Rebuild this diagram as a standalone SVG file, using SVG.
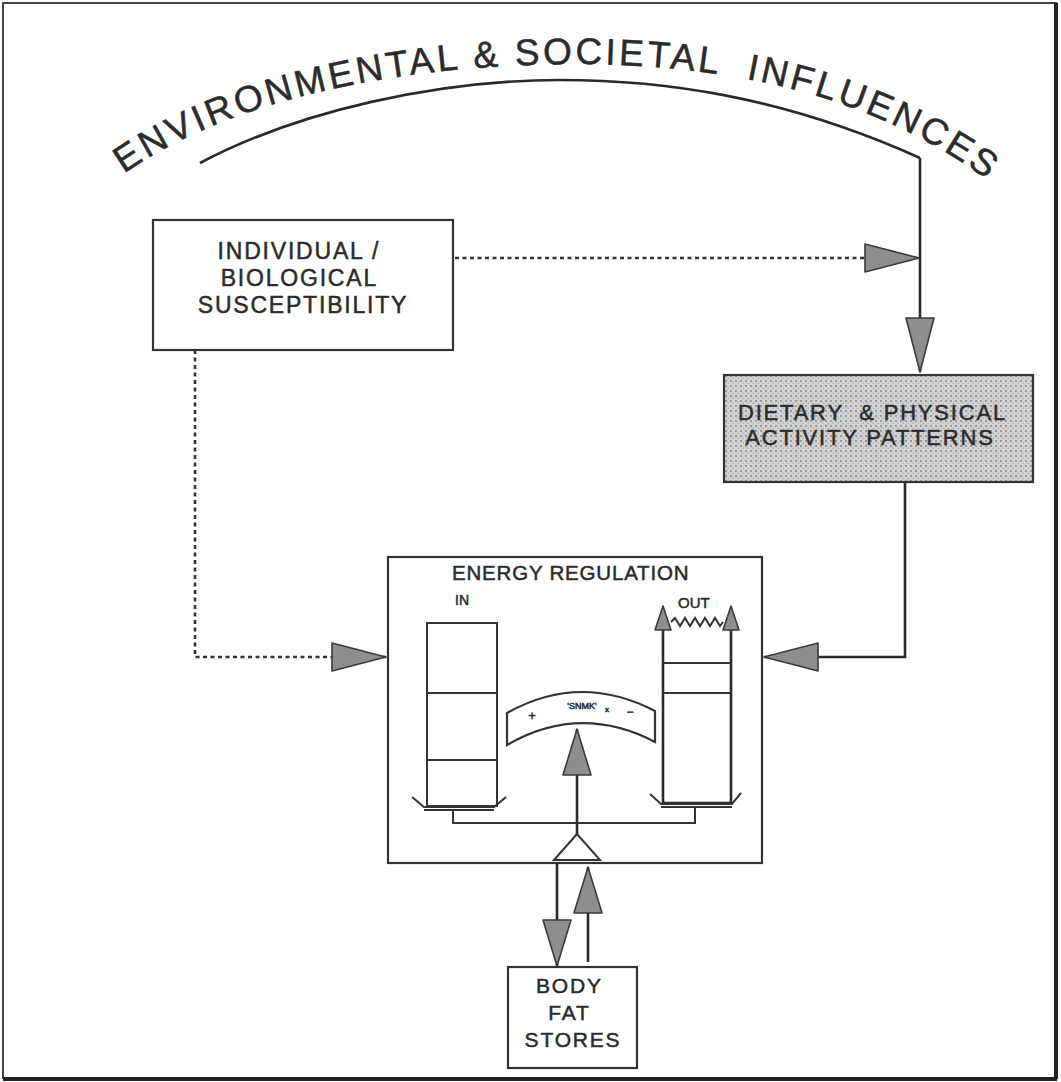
<svg xmlns="http://www.w3.org/2000/svg" width="1061" height="1082" viewBox="0 0 1061 1082">
<style>
  .txt { font-family: "Liberation Sans", Arial, sans-serif; fill: #2b2b2b; stroke: #2b2b2b; stroke-width: 0.5; }
  .box { fill: #ffffff; stroke: #333333; stroke-width: 2.2; }
  .ln { fill: none; stroke: #2a2a2a; stroke-width: 2.6; }
  .thin { fill: none; stroke: #333333; stroke-width: 2; }
  .dot { fill: none; stroke: #333333; stroke-width: 2.6; stroke-dasharray: 4 3.5; }
  .ahd { fill: #8e8e8e; stroke: #3a3a3a; stroke-width: 1.6; stroke-linejoin: round; }
</style>
<defs>
  <marker id="ah" viewBox="0 0 56 30" refX="55" refY="15" markerWidth="56" markerHeight="30" markerUnits="userSpaceOnUse" orient="auto">
    <path d="M1,1 L55,15 L1,29 Z" class="ahd"/>
  </marker>
  <marker id="ahm" viewBox="0 0 48 30" refX="47" refY="15" markerWidth="48" markerHeight="30" markerUnits="userSpaceOnUse" orient="auto">
    <path d="M1,1 L47,15 L1,29 Z" class="ahd"/>
  </marker>
  <marker id="ahs" viewBox="0 0 26 18" refX="25" refY="9" markerWidth="26" markerHeight="18" markerUnits="userSpaceOnUse" orient="auto">
    <path d="M1,1 L25,9 L1,17 Z" class="ahd"/>
  </marker>
  <pattern id="stip" width="5" height="5" patternUnits="userSpaceOnUse">
    <rect width="5" height="5" fill="#d2d2d2"/>
    <rect x="0" y="0" width="2" height="2" fill="#9a9a9a"/>
    <rect x="2.5" y="2.5" width="1.5" height="1.5" fill="#b4b4b4"/>
  </pattern>
  <path id="titlePath" d="M124,174 C240,92 420,64 580,64 C760,66 900,105 1020,205"/>
</defs>

<g id="frame">
  <rect x="3" y="3" width="1053" height="1075" fill="none" stroke="#444444" stroke-width="2"/>
  <line x1="1056" y1="3" x2="1056" y2="1079" stroke="#222222" stroke-width="4"/>
  <line x1="3" y1="1079" x2="1057" y2="1079" stroke="#222222" stroke-width="4"/>
</g>

<g id="title">
  <path d="M200,163 C300,110 440,80 560,80 C660,80 780,95 920,158" class="ln"/>
  <text class="txt" font-size="37" letter-spacing="3.2" stroke-width="0.8" xml:space="preserve"><textPath href="#titlePath" startOffset="0">ENVIRONMENTAL &amp; SOCIETAL  INFLUENCES</textPath></text>
</g>

<g id="connectors">
  <path d="M920,158 L920,372" class="ln" marker-end="url(#ah)"/>
  <path d="M455,258 L919,258" class="dot" marker-end="url(#ah)"/>
  <path d="M195,350 L195,657 L386,657" class="dot" marker-end="url(#ah)"/>
  <path d="M905,482 L905,657 L764,657" class="ln" marker-end="url(#ah)"/>
  <path d="M557,863 L557,966" class="ln" marker-end="url(#ahm)"/>
  <path d="M588,962 L588,867" class="ln" marker-end="url(#ahm)"/>
</g>

<g id="node-individual">
  <rect x="153" y="220" width="300" height="130" class="box"/>
  <text class="txt" font-size="23" letter-spacing="1.8" text-anchor="middle">
    <tspan x="303" y="259">INDIVIDUAL /</tspan>
    <tspan x="303" y="286">BIOLOGICAL</tspan>
    <tspan x="303" y="313">SUSCEPTIBILITY</tspan>
  </text>
</g>

<g id="node-dietary">
  <rect x="724" y="375" width="309" height="107" fill="url(#stip)" stroke="#333333" stroke-width="2.2"/>
  <text class="txt" font-size="22" letter-spacing="1.8" text-anchor="middle" fill="#222222">
    <tspan x="876" y="420" xml:space="preserve">DIETARY  &amp; PHYSICAL</tspan>
    <tspan x="870" y="445">ACTIVITY PATTERNS</tspan>
  </text>
</g>

<g id="node-energy">
  <rect x="388" y="557" width="374" height="306" class="box"/>
  <text class="txt" x="452" y="580" font-size="20.5" letter-spacing="0.8">ENERGY REGULATION</text>
  <text class="txt" x="455" y="605" font-size="14" stroke-width="0.3">IN</text>
  <text class="txt" x="678" y="608" font-size="15" stroke-width="0.3">OUT</text>
  <!-- IN column -->
  <rect x="427" y="623" width="70" height="183" fill="none" stroke="#333333" stroke-width="2"/>
  <line x1="427" y1="693" x2="497" y2="693" class="thin"/>
  <line x1="427" y1="760" x2="497" y2="760" class="thin"/>
  <path d="M412,797 L424,807 L494,807 L506,797" class="thin"/>
  <line x1="424" y1="810" x2="494" y2="810" class="thin"/>
  <!-- OUT column -->
  <path d="M663,630 L663,803 L731,803 L731,630" class="ln"/>
  <line x1="663" y1="663" x2="731" y2="663" class="thin"/>
  <line x1="663" y1="693" x2="731" y2="693" class="thin"/>
  <path d="M663,634 L663,606" class="thin" marker-end="url(#ahs)"/>
  <path d="M731,634 L731,606" class="thin" marker-end="url(#ahs)"/>
  <path d="M671,622 L675,618 L680,626 L685,618 L690,626 L695,618 L700,626 L705,618 L710,626 L715,618 L720,626 L723,622" class="thin" stroke-width="1.8"/>
  <path d="M650,794 L661,804 L732,804 L741,793" class="thin"/>
  <line x1="661" y1="807" x2="732" y2="807" class="thin"/>
  <!-- balance beam -->
  <path d="M453,810 L453,823 L695,823 L695,808" class="thin"/>
  <!-- pointer -->
  <path d="M577,836 L577,729" class="ln" marker-end="url(#ahm)"/>
  <!-- fulcrum -->
  <path d="M577,834 L554,860 L600,860 Z" fill="#ffffff" stroke="#333333" stroke-width="2"/>
  <!-- meter -->
  <path d="M507,713 Q580,672 655,711 L655,742 Q580,703 507,745 Z" fill="#ffffff" stroke="#333333" stroke-width="2.2"/>
  <text class="txt" x="532" y="720" font-size="13" text-anchor="middle" stroke-width="0.2">+</text>
  <text class="txt" x="582" y="709" font-size="9" text-anchor="middle" stroke-width="0.2">'SNMK'</text>
  <text class="txt" x="607" y="712" font-size="8" text-anchor="middle" stroke-width="0.2">x</text>
  <text class="txt" x="630" y="716" font-size="12" text-anchor="middle" stroke-width="0.2">−</text>
</g>

<g id="node-bodyfat">
  <rect x="508" y="967" width="129" height="101" class="box"/>
  <text class="txt" font-size="21" letter-spacing="1.8" text-anchor="middle">
    <tspan x="573" y="993">BODY</tspan>
    <tspan x="573" y="1020">FAT</tspan>
    <tspan x="573" y="1047">STORES</tspan>
  </text>
</g>
</svg>
